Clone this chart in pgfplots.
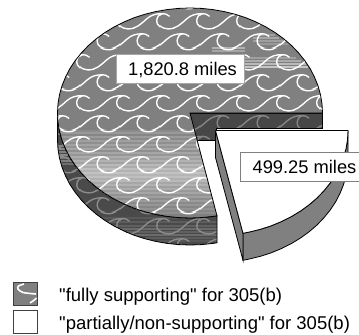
\documentclass[border=0pt]{standalone}
\usepackage{pgfplots}
\usepackage{pgfplotstable}
\usepackage{fontspec}
\setmainfont{Liberation Sans}
\pgfplotsset{compat=1.18}
\usetikzlibrary{patterns}
\newcommand\qq{\XeTeXglyph\XeTeXcharglyph"22 }
\newcommand\wv[2]{\begin{pgfscope}\pgftransformshift{\pgfpoint{#1bp}{#2bp}}%
\pgfpathmoveto{\pgfpoint{6.5bp}{-2.5bp}}%
\pgfpathcurveto{\pgfpoint{4.5bp}{-0.5bp}}{\pgfpoint{2bp}{0bp}}{\pgfpoint{0bp}{0bp}}%
\pgfpathcurveto{\pgfpoint{-3bp}{0bp}}{\pgfpoint{-5.5bp}{-4bp}}{\pgfpoint{-5.5bp}{-7.5bp}}%
\pgfpathcurveto{\pgfpoint{-5.5bp}{-12bp}}{\pgfpoint{-1bp}{-15bp}}{\pgfpoint{5bp}{-15.5bp}}%
\pgfpathcurveto{\pgfpoint{13bp}{-16bp}}{\pgfpoint{19bp}{-10bp}}{\pgfpoint{24bp}{-5.5bp}}%
\pgfpathcurveto{\pgfpoint{29bp}{-1bp}}{\pgfpoint{34bp}{0bp}}{\pgfpoint{40bp}{0bp}}%
\pgfusepath{stroke}\end{pgfscope}}
\pgfdeclarepatternformonly{waves}{\pgfpointorigin}{\pgfpoint{40bp}{41bp}}{\pgfpoint{40bp}{41bp}}{%
\pgfsetlinewidth{1.4bp}\pgfsetroundcap
\wv{-37}{35}\wv{3}{35}\wv{43}{35}%
\wv{-17}{14.5}\wv{23}{14.5}%
\wv{-17}{55.5}\wv{23}{55.5}}
\definecolor{base}{gray}{0.5}
\definecolor{darkside}{gray}{0.29}
\newcommand\st[4]{\addplot[forget plot,line width=1.1bp,color=white!#4!base] coordinates {(#2,#1)(#3,#1)};}
\newcommand\sd[4]{\addplot[forget plot,line width=1.1bp,color=white!#4!darkside] coordinates {(#2,#1)(#3,#1)};}
\pgfplotstableread{
x y
322.5 113
322.0 103.8
320.5 94.8
318.0 85.8
314.5 77.1
310.1 68.6
304.7 60.5
298.5 52.8
291.5 45.5
283.7 38.8
275.2 32.6
266.0 27.0
256.3 22.1
246.0 17.8
235.3 14.3
224.3 11.6
213.0 9.6
201.5 8.4
190 8
178.5 8.4
167.0 9.6
155.7 11.6
144.7 14.3
134.0 17.8
123.7 22.1
114.0 27.0
104.8 32.6
96.3 38.8
88.5 45.5
81.5 52.8
75.3 60.5
69.9 68.6
65.5 77.1
62.0 85.8
59.5 94.8
58.0 103.8
57.5 113
58.0 122.2
59.5 131.2
62.0 140.2
65.5 148.9
69.9 157.4
75.3 165.5
81.5 173.2
88.5 180.5
96.3 187.2
104.8 193.4
114.0 199.0
123.7 203.9
134.0 208.2
144.7 211.7
155.7 214.4
167.0 216.4
178.5 217.6
190 218
201.5 217.6
213.0 216.4
217 215.8
190 113
322.5 113
}\topface
\pgfplotstableread{
x y
57.5 113
58.0 122.2
59.5 131.2
62.0 140.2
65.5 148.9
69.9 157.4
75.3 165.5
81.5 173.2
88.5 180.5
96.3 187.2
104.8 193.4
114.0 199.0
123.7 203.9
134.0 208.2
144.7 211.7
155.7 214.4
167.0 216.4
178.5 217.6
190 218
201.5 217.6
213.0 216.4
217 215.8
217 242.8
213.0 243.4
201.5 244.6
190 245
178.5 244.6
167.0 243.4
155.7 241.4
144.7 238.7
134.0 235.2
123.7 230.9
114.0 226.0
104.8 220.4
96.3 214.2
88.5 207.5
81.5 200.2
75.3 192.5
69.9 184.4
65.5 175.9
62.0 167.2
59.5 158.2
58.0 149.2
57.5 140
57.5 113
}\sideface
\pgfplotstableread{
x y
190 113
322.5 113
322.5 128
216 128
216 140
190 140
190 113
}\cutface
\pgfplotstableread{
x y
215.5 130.5
348.0 130.5
347.5 139.7
346.0 148.7
343.5 157.7
340.0 166.4
335.6 174.9
330.2 183.0
324.0 190.7
317.0 198.0
309.2 204.7
300.7 210.9
291.5 216.5
281.8 221.4
271.5 225.7
260.8 229.2
249.8 231.9
243 233.3
215.5 130.5
}\slicetop
\pgfplotstableread{
x y
348.0 130.5
347.5 139.7
346.0 148.7
343.5 157.7
340.0 166.4
335.6 174.9
330.2 183.0
324.0 190.7
317.0 198.0
309.2 204.7
300.7 210.9
291.5 216.5
281.8 221.4
271.5 225.7
260.8 229.2
249.8 231.9
243 233.3
243 260.3
249.8 258.9
260.8 256.2
271.5 252.7
281.8 248.4
291.5 243.5
300.7 237.9
309.2 231.7
317.0 225.0
324.0 217.7
330.2 210.0
335.6 201.9
340.0 193.4
343.5 184.7
346.0 175.7
347.5 166.7
348.0 157.5
348.0 130.5
}\slicerim
\pgfplotstableread{
x y
215.5 130.5
243 233.3
243 260.3
215.5 157.5
215.5 130.5
}\sliceleft
\begin{document}
\begin{tikzpicture}
\path[use as bounding box] (0,0) rectangle (359bp,335bp);
\begin{axis}[
  scale only axis, width=359bp, height=335bp,
  xmin=0, xmax=359, ymin=0, ymax=335, y dir=reverse,
  hide axis, clip=false]
% cut face
\addplot[forget plot,fill=black!72,draw=none] table {\cutface};
\addplot[forget plot,pattern=waves,pattern color=black!48,draw=black,line width=0.7bp] table {\cutface};
% side
\addplot[forget plot,fill=darkside,draw=none] table {\sideface};
\sd{134}{58}{59.5}{25}
\sd{146}{58}{64.5}{30}
\sd{149}{58.5}{65.5}{35}
\sd{152}{58.5}{67}{30}
\sd{155}{58.5}{68.5}{35}
\sd{158}{59}{70.5}{25}
\sd{161}{60}{72}{30}
\sd{164}{61}{74}{20}
\sd{218}{102}{190}{8}
\sd{222}{108}{217}{10}
\sd{226}{114}{217}{12}
\sd{229}{120}{217}{18}
\sd{232}{126}{217}{12}
\sd{235}{135}{217}{18}
\sd{238}{146}{217}{10}
\sd{241}{158}{217}{8}
\addplot[forget plot,pattern=waves,pattern color=black!45,draw=black,line width=0.8bp] table {\sideface};
% top face
\addplot[forget plot,fill=base,draw=none] table {\topface};
\st{131}{59.5}{194.7}{10}
\st{133}{59.9}{195.3}{20}
\st{135}{60.5}{195.8}{5}
\st{137}{61.1}{196.3}{22}
\st{139}{61.7}{196.8}{8}
\st{141}{62.3}{197.4}{25}
\st{143}{63.1}{197.9}{12}
\st{145}{63.9}{198.4}{28}
\st{147}{64.7}{198.9}{15}
\st{149}{65.6}{199.5}{30}
\st{151}{66.5}{200}{12}
\st{153}{67.4}{200.5}{30}
\st{155}{68.5}{201}{18}
\st{157}{69.7}{201.6}{35}
\st{159}{70.9}{202.1}{25}
\st{161}{72.2}{202.6}{40}
\st{163}{73.5}{203.1}{28}
\st{165}{74.9}{203.7}{45}
\st{167}{76.4}{204.2}{35}
\st{169}{77.9}{204.7}{50}
\st{171}{79.5}{205.2}{40}
\st{173}{81.2}{205.8}{52}
\st{175}{83}{206.3}{42}
\st{177}{84.9}{206.8}{50}
\st{179}{86.9}{207.3}{38}
\st{181}{89}{207.9}{45}
\st{183}{91.2}{208.4}{30}
\st{185}{93.5}{208.9}{40}
\st{187}{96}{209.4}{25}
\st{189}{98.6}{210}{35}
\st{191}{101.3}{210.5}{20}
\st{193}{104.1}{211}{30}
\st{195}{107.2}{211.5}{15}
\st{197}{110.5}{212.1}{25}
\st{199}{114}{212.6}{10}
\st{201}{117.7}{213.1}{22}
\st{203}{121.8}{213.6}{8}
\st{205}{126.1}{214.2}{18}
\st{207}{131}{214.7}{5}
\st{209}{136.3}{215.2}{15}
\st{211}{143}{215.7}{5}
\st{213}{149.6}{216.3}{12}
% upper right streaks
\st{35}{255}{275}{25}
\st{38}{253}{279}{30}
\st{41}{253}{285}{25}
\st{44}{258}{289}{20}
\st{48}{212}{245}{40}
\st{51}{212}{245}{30}
\st{58}{245}{296}{25}
\st{61}{245}{301}{35}
\st{64}{245}{306}{45}
\st{67}{245}{308}{55}
\addplot[forget plot,pattern=waves,pattern color=white,draw=black,line width=0.8bp] table {\topface};
% exploded slice
\addplot[forget plot,fill=base,draw=black,line width=0.8bp] table {\slicerim};
\addplot[forget plot,fill=base,draw=black,line width=0.8bp] table {\sliceleft};
\addplot[forget plot,fill=white,draw=black,line width=0.8bp] table {\slicetop};
% legend swatches
\addplot[forget plot,fill=base,draw=black!75,line width=0.7bp] coordinates {(13,282)(37,282)(37,305)(13,305)(13,282)};
\addplot[forget plot,white,line width=1.6bp,smooth] coordinates {(24,284)(18.5,286)(18,289)(23,292.5)(36,294)};
\addplot[forget plot,white,line width=1.6bp,smooth] coordinates {(30,303)(33,301)(36.5,298)};
\addplot[forget plot,fill=white,draw=black!75,line width=0.7bp] coordinates {(13,310)(37,310)(37,333)(13,333)(13,310)};
% labels
\node[draw=black!35,fill=white,line width=0.5bp,minimum width=128bp,minimum height=29bp,inner sep=0pt,anchor=center] at (axis cs:180,68.5) {};
\node[inner sep=0pt,anchor=base] at (axis cs:182.5,75) {\fontsize{18.3bp}{20bp}\selectfont 1,820.8 miles};
\node[draw=black!50,fill=white,line width=0.5bp,minimum width=120bp,minimum height=29bp,inner sep=0pt,anchor=center] at (axis cs:300,166.5) {};
\node[inner sep=0pt,anchor=base] at (axis cs:304.5,173.5) {\fontsize{18.3bp}{20bp}\selectfont 499.25 miles};
\node[inner sep=0pt,anchor=base west] at (axis cs:59,301) {\fontsize{18.5bp}{20bp}\selectfont \qq fully supporting\qq\ for 305(b)};
\node[inner sep=0pt,anchor=base west] at (axis cs:59,329) {\fontsize{18.5bp}{20bp}\selectfont \qq partially/non-supporting\qq\ for 305(b)};
\end{axis}
\end{tikzpicture}
\end{document}
